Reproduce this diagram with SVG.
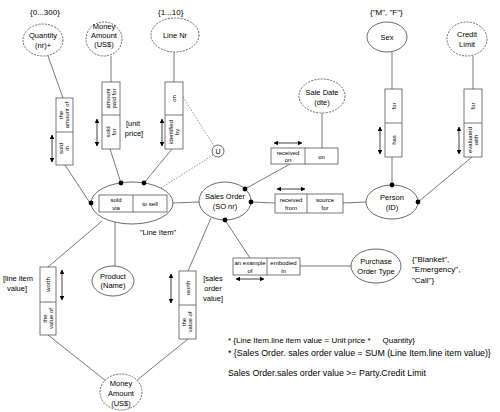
<svg xmlns="http://www.w3.org/2000/svg" width="500" height="412" viewBox="0 0 500 412">
<style>
text{font-family:"Liberation Sans",Arial,sans-serif;fill:#000}
.n{font-size:7.5px;text-anchor:middle}
.a{font-size:8px}
.r{font-size:6px;text-anchor:middle}
.f{font-size:8.8px}
.f1{font-size:8px}
.el{fill:#fff;stroke:#444;stroke-width:0.8}
.ds{stroke-dasharray:2,1.2}
.bx{fill:#fff;stroke:#555;stroke-width:0.8}
.ln{stroke:#555;stroke-width:0.8;fill:none}
.dt{stroke:#666;stroke-width:0.7;stroke-dasharray:1.5,1.5;fill:none}
.ar{stroke:#111;stroke-width:0.8;fill:none;marker-start:url(#h);marker-end:url(#h)}
.dot{fill:#000}
</style>
<defs>
<marker id="h" viewBox="0 0 10 10" refX="9" refY="5" markerWidth="4.5" markerHeight="4.5" orient="auto-start-reverse" markerUnits="userSpaceOnUse"><path d="M0,0L10,5L0,10z" fill="#000"/></marker>
</defs>
<g id="connectors">
<path class="ln" d="M48,56L63,98"/>
<path class="ln" d="M111,56L111,82"/>
<path class="ln" d="M174,52L174,82"/>
<path class="ln" d="M65,165L90,203"/>
<path class="ln" d="M110,149L121,183"/>
<path class="ln" d="M172,149L144,183"/>
<path class="dt" d="M183,97L214,146"/>
<path class="dt" d="M213,155L150,195"/>
<path class="ln" d="M173,203L199,202"/>
<path class="ln" d="M322,112L322,148"/>
<path class="ln" d="M290,164L245,189"/>
<path class="ln" d="M251,202L275,203"/>
<path class="ln" d="M343,203L366,202"/>
<path class="ln" d="M392,52L392,89"/>
<path class="ln" d="M392,157L392,185"/>
<path class="ln" d="M473,56L473,89"/>
<path class="ln" d="M472,157L418,202"/>
<path class="ln" d="M225,220L250,258"/>
<path class="ln" d="M300,266L351,266"/>
<path class="ln" d="M211,218L188,271"/>
<path class="ln" d="M102,221L48,267"/>
<path class="ln" d="M115,212L115,266"/>
<path class="ln" d="M48,335L106,381"/>
<path class="ln" d="M188,339L136,381"/>
</g>
<g id="quantity">
<text class="a" x="30" y="15">{0...300}</text>
<ellipse class="el ds" cx="43" cy="40" rx="20" ry="16"/>
<text class="n" x="43" y="38">Quantity</text>
<text class="n" x="43" y="48">(nr)+</text>
</g>
<g id="quantity-role">
<rect class="bx" x="56" y="98" width="17" height="67"/>
<path class="ln" d="M56,132H73"/>
<text class="r" transform="translate(64.5,115) rotate(-90)"><tspan x="0" y="-1.5">the</tspan><tspan x="0" y="4.5">amount of</tspan></text>
<text class="r" transform="translate(64.5,148.5) rotate(-90)"><tspan x="0" y="-1.5">sold</tspan><tspan x="0" y="4.5">in</tspan></text>
<path class="ar" d="M52,135V162"/>
</g>
<g id="money-top">
<ellipse class="el ds" cx="104" cy="39" rx="18" ry="17"/>
<text class="n" x="104" y="29">Money</text>
<text class="n" x="104" y="38">Amount</text>
<text class="n" x="104" y="47">(US$)</text>
</g>
<g id="money-role">
<rect class="bx" x="102" y="82" width="18" height="67"/>
<path class="ln" d="M102,115H120"/>
<text class="r" transform="translate(111,98.5) rotate(-90)"><tspan x="0" y="-1.5">amount</tspan><tspan x="0" y="4.5">paid for</tspan></text>
<text class="r" transform="translate(111,132) rotate(-90)"><tspan x="0" y="-1.5">sold</tspan><tspan x="0" y="4.5">for</tspan></text>
<path class="ar" d="M97,119V146"/>
<text class="n" x="133" y="126">[unit</text>
<text class="n" x="134" y="136">price]</text>
</g>
<g id="line-nr">
<text class="a" x="158" y="15">{1...10}</text>
<ellipse class="el ds" cx="175" cy="35" rx="24" ry="17"/>
<text class="n" x="175" y="38">Line Nr</text>
</g>
<g id="line-nr-role">
<rect class="bx" x="165" y="82" width="18" height="67"/>
<path class="ln" d="M165,115H183"/>
<text class="r" transform="translate(174,98.5) rotate(-90)"><tspan x="0" y="2">on</tspan></text>
<text class="r" transform="translate(174,132) rotate(-90)"><tspan x="0" y="-1.5">identified</tspan><tspan x="0" y="4.5">by</tspan></text>
<path class="ar" d="M162,119V146"/>
</g>
<g id="uniqueness">
<circle cx="218" cy="151" r="6" fill="#fff" stroke="#444" stroke-width="0.8"/>
<text class="n" x="218" y="154" style="font-size:7px">U</text>
</g>
<g id="line-item">
<ellipse class="el" cx="132" cy="203" rx="41" ry="21"/>
<rect class="bx" x="99" y="195" width="68" height="17"/>
<path class="ln" d="M133,195V212"/>
<text class="r" x="116" y="202">sold</text>
<text class="r" x="116" y="209.5">via</text>
<text class="r" x="150" y="205.5">to sell</text>
<text class="n" x="158" y="235">"Line Item"</text>
<circle class="dot" cx="91" cy="203" r="2.4"/>
<circle class="dot" cx="121" cy="183" r="2.4"/>
<circle class="dot" cx="144" cy="183" r="2.4"/>
</g>
<g id="sale-date">
<ellipse class="el ds" cx="322" cy="96" rx="23" ry="17"/>
<text class="n" x="322" y="95">Sale Date</text>
<text class="n" x="322" y="105">(dte)</text>
</g>
<g id="received-on">
<rect class="bx" x="271" y="148" width="67" height="16"/>
<path class="ln" d="M305,148V164"/>
<text class="r" x="288" y="155">received</text>
<text class="r" x="288" y="162">on</text>
<text class="r" x="321.5" y="158.5">on</text>
<path class="ar" d="M274,143H302"/>
</g>
<g id="sales-order">
<ellipse class="el" cx="225" cy="201" rx="26" ry="19"/>
<text class="n" x="225" y="199">Sales Order</text>
<text class="n" x="225" y="209">(SO nr)</text>
<circle class="dot" cx="245" cy="189" r="2.4"/>
<circle class="dot" cx="251" cy="202" r="2.4"/>
<circle class="dot" cx="225" cy="220" r="2.4"/>
</g>
<g id="received-from">
<rect class="bx" x="275" y="194" width="68" height="19"/>
<path class="ln" d="M307,194V213"/>
<text class="r" x="291" y="202">received</text>
<text class="r" x="291" y="210">from</text>
<text class="r" x="325" y="202">source</text>
<text class="r" x="325" y="210">for</text>
<path class="ar" d="M277,189H305"/>
</g>
<g id="sex">
<text class="a" x="370" y="15">{"M", "F"}</text>
<ellipse class="el" cx="387" cy="37" rx="20" ry="15"/>
<text class="n" x="387" y="40">Sex</text>
</g>
<g id="sex-role">
<rect class="bx" x="385" y="89" width="17" height="68"/>
<path class="ln" d="M385,123H402"/>
<text class="r" transform="translate(393.5,106) rotate(-90)"><tspan x="0" y="2">for</tspan></text>
<text class="r" transform="translate(393.5,140) rotate(-90)"><tspan x="0" y="2">has</tspan></text>
<path class="ar" d="M380,127V154"/>
</g>
<g id="credit-limit">
<ellipse class="el ds" cx="467" cy="39" rx="20" ry="17"/>
<text class="n" x="467" y="37">Credit</text>
<text class="n" x="467" y="47">Limit</text>
</g>
<g id="credit-role">
<rect class="bx" x="464" y="89" width="18" height="68"/>
<path class="ln" d="M464,123H482"/>
<text class="r" transform="translate(473,106) rotate(-90)"><tspan x="0" y="2">for</tspan></text>
<text class="r" transform="translate(473,140) rotate(-90)"><tspan x="0" y="-1.5">evaluated</tspan><tspan x="0" y="4.5">with</tspan></text>
<path class="ar" d="M459,127V154"/>
</g>
<g id="person">
<ellipse class="el" cx="392" cy="202" rx="26" ry="17"/>
<text class="n" x="392" y="200">Person</text>
<text class="n" x="392" y="210">(ID)</text>
<circle class="dot" cx="392" cy="185" r="2.4"/>
<circle class="dot" cx="418" cy="202" r="2.4"/>
</g>
<g id="example-role">
<rect class="bx" x="233" y="258" width="67" height="17"/>
<path class="ln" d="M267,258V275"/>
<text class="r" x="250" y="265">an example</text>
<text class="r" x="250" y="272.5">of</text>
<text class="r" x="283.5" y="265">embodied</text>
<text class="r" x="283.5" y="272.5">in</text>
<path class="ar" d="M236,279H264"/>
</g>
<g id="purchase-order-type">
<ellipse class="el" cx="376" cy="266" rx="25" ry="17"/>
<text class="n" x="376" y="264">Purchase</text>
<text class="n" x="376" y="274">Order Type</text>
<text class="a" x="412" y="262">{"Blanket",</text>
<text class="a" x="412" y="272">"Emergency",</text>
<text class="a" x="412" y="283">"Call"}</text>
</g>
<g id="product">
<ellipse class="el" cx="113" cy="281" rx="21" ry="15"/>
<text class="n" x="113" y="279">Product</text>
<text class="n" x="113" y="288">(Name)</text>
</g>
<g id="line-item-value-role">
<rect class="bx" x="40" y="267" width="16" height="68"/>
<path class="ln" d="M40,302H56"/>
<text class="r" transform="translate(48,284.5) rotate(-90)"><tspan x="0" y="2">worth</tspan></text>
<text class="r" transform="translate(48,318.5) rotate(-90)"><tspan x="0" y="-1.5">the</tspan><tspan x="0" y="4.5">value of</tspan></text>
<path class="ar" d="M62,270V300"/>
<text class="n" x="3" y="281" style="text-anchor:start">[line item</text>
<text class="n" x="7" y="291" style="text-anchor:start">value]</text>
</g>
<g id="sales-order-value-role">
<rect class="bx" x="179" y="271" width="17" height="68"/>
<path class="ln" d="M179,305H196"/>
<text class="r" transform="translate(187.5,288) rotate(-90)"><tspan x="0" y="2">worth</tspan></text>
<text class="r" transform="translate(187.5,322) rotate(-90)"><tspan x="0" y="-1.5">the</tspan><tspan x="0" y="4.5">value of</tspan></text>
<path class="ar" d="M171,274V303"/>
<text class="n" x="213" y="281">[sales</text>
<text class="n" x="213" y="291">order</text>
<text class="n" x="213" y="301">value]</text>
</g>
<g id="money-bottom">
<ellipse class="el ds" cx="121" cy="392" rx="21" ry="18"/>
<text class="n" x="121" y="386">Money</text>
<text class="n" x="121" y="396">Amount</text>
<text class="n" x="121" y="406">(US$)</text>
</g>
<g id="rules">
<text class="f1" x="228" y="343">* {Line Item.line item value = Unit price *<tspan dx="12">Quantity}</tspan></text>
<text class="f" x="228" y="356">* {Sales Order. sales order value = SUM (Line Item.line item value)}</text>
<text class="f" x="228" y="376">Sales Order.sales order value &gt;= Party.Credit Limit</text>
</g>
</svg>
